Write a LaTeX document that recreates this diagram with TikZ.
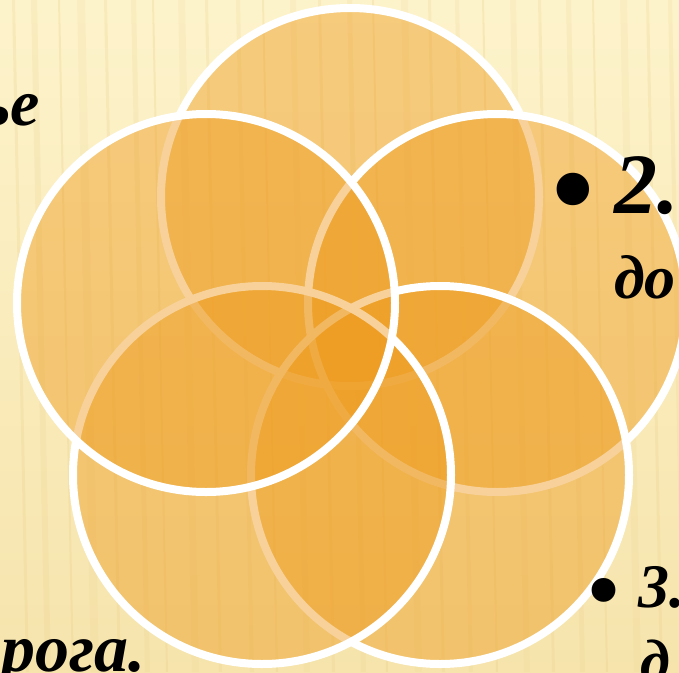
\documentclass[tikz,border=0pt]{standalone}
\usepackage{fontspec}
\setmainfont{Liberation Serif}
\begin{document}
\begin{tikzpicture}[x=1pt,y=-1pt,
  petal/.style={fill=petalorange,fill opacity=0.45,draw=white,draw opacity=1,line width=8pt},
  txt/.style={inner sep=0pt,font=\bfseries\itshape,text=black}]
\definecolor{petalorange}{HTML}{EE9B1E}
\definecolor{bgtop}{HTML}{FDF3CB}
\definecolor{bgbot}{HTML}{F6E4AC}
\definecolor{grain}{HTML}{EBD08A}
\useasboundingbox (0,0) rectangle (679,672);
\clip (0,0) rectangle (679,672);
\shade[top color=bgtop,bottom color=bgbot] (0,0) rectangle (679,672);
\foreach \x/\w/\o in {12/3/0.25,31/6/0.2,58/2/0.3,77/8/0.15,104/3/0.25,131/5/0.2,152/2/0.3,178/7/0.15,205/3/0.25,236/4/0.2,262/2/0.3,290/6/0.15,318/3/0.25,347/5/0.2,372/2/0.3,401/7/0.15,428/3/0.25,455/4/0.2,482/2/0.3,510/6/0.15,538/3/0.25,566/5/0.2,592/2/0.3,620/7/0.15,646/3/0.25,668/4/0.2}
  \fill[grain,opacity=\o] (\x,0) -- (\x+\w,0) -- (\x+\w+14,672) -- (\x+14,672) -- cycle;
% circles: top, right, bottom-right, bottom-left, left
\path[petal] (350,197) circle[radius=189];
\path[petal] (497,303) circle[radius=189];
\path[petal] (440,475) circle[radius=189];
\path[petal] (262,475) circle[radius=189];
\path[petal] (206,303) circle[radius=189];
% texts
\node[txt,font=\bfseries\itshape\fontsize{66}{70}\selectfont,anchor=base east] (t1) at (40,125) {ье};
\node[txt,font=\fontsize{136}{140}\selectfont,anchor=base] (b1) at (573,234) {•};
\node[txt,font=\bfseries\itshape\fontsize{86}{90}\selectfont,anchor=base west] (t2) at (614,213) {2.};
\node[txt,font=\bfseries\itshape\fontsize{62}{66}\selectfont,anchor=base west] (t3) at (614,298) {до};
\node[txt,font=\fontsize{100}{104}\selectfont,anchor=base] (b2) at (604,623) {•};
\node[txt,font=\bfseries\itshape\fontsize{62}{66}\selectfont,anchor=base west] (t4) at (638,607) {3.};
\node[txt,font=\bfseries\itshape\fontsize{60}{64}\selectfont,anchor=base west] (t5) at (640,681) {д};
\node[txt,font=\bfseries\itshape\fontsize{68}{72}\selectfont,anchor=base east] (t6) at (146,671) {рога.};
\end{tikzpicture}
\end{document}
